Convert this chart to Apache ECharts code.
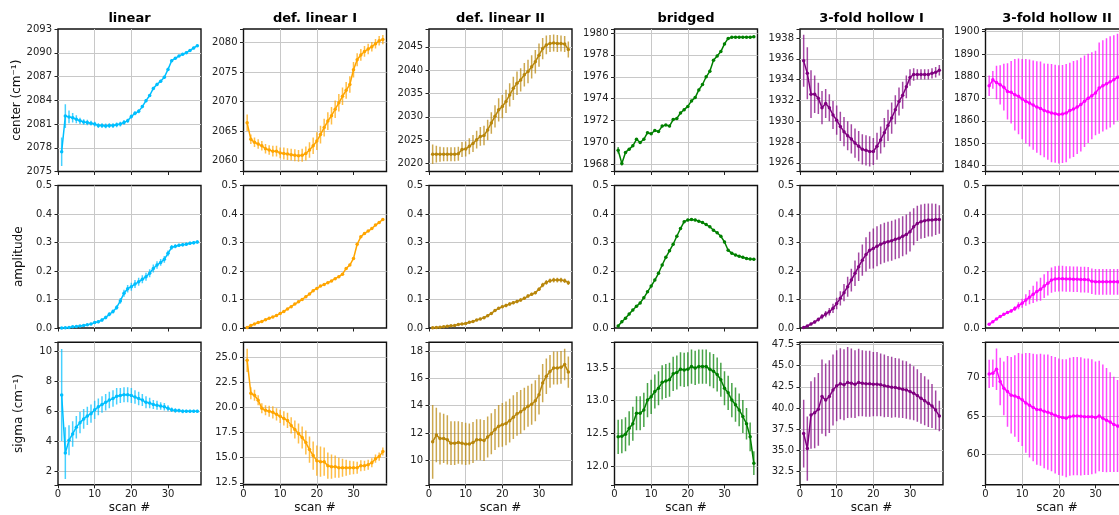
<!DOCTYPE html>
<html><head><meta charset="utf-8">
<script src="https://cdn.jsdelivr.net/npm/echarts@6/dist/echarts.min.js"></script>
<style>html,body{margin:0;padding:0;background:#fff}#c{width:1119px;height:515px}</style>
</head><body><div id="c"></div>
<script>
const scans = [1,2,3,4,5,6,7,8,9,10,11,12,13,14,15,16,17,18,19,20,21,22,23,24,25,26,27,28,29,30,31,32,33,34,35,36,37,38];
const panelTitles = ['linear','def. linear I','def. linear II','bridged','3-fold hollow I','3-fold hollow II'];
const rowNames = ['center (cm\u207B\u00B9)','amplitude','sigma (cm\u207B\u00B9)'];
const colors = ['#00bfff','#ffa500','#b8860b','#008000','#800080','#ff00ff'];
const xTicks = [0,10,20,30];
const xTickStep = 10;

// ---- center ----
const linearCenter = [2077.5,2082.0,2081.9,2081.8,2081.6,2081.4,2081.25,2081.2,2081.1,2081.0,2080.8,2080.8,2080.75,2080.8,2080.8,2080.9,2081.0,2081.2,2081.4,2081.95,2082.35,2082.6,2083.2,2083.95,2084.6,2085.5,2086.0,2086.4,2086.9,2087.9,2089.0,2089.3,2089.6,2089.8,2090.0,2090.3,2090.6,2090.9];
const linearCenterErr = [1.8,1.5,0.8,0.6,0.5,0.4,0.35,0.35,0.3,0.3,0.3,0.3,0.3,0.3,0.3,0.3,0.3,0.3,0.25,0.25,0.25,0.25,0.2,0.2,0.2,0.2,0.2,0.2,0.2,0.2,0.15,0.15,0.15,0.15,0.15,0.15,0.15,0.15];
const defLinICenter = [2066.4,2063.6,2063.1,2062.8,2062.5,2062.0,2061.8,2061.6,2061.6,2061.3,2061.2,2061.1,2061.0,2060.9,2060.8,2060.9,2061.2,2061.8,2062.5,2063.3,2064.4,2065.6,2066.7,2067.6,2068.7,2069.8,2070.9,2071.9,2072.9,2075.4,2077.1,2077.9,2078.5,2078.9,2079.3,2079.8,2080.3,2080.5];
const defLinICenterErr = [1.4,0.8,0.8,0.8,0.8,0.8,0.8,0.9,0.9,0.9,1.0,1.0,1.0,1.0,1.0,1.1,1.2,1.3,1.4,1.5,1.5,1.5,1.5,1.5,1.5,1.5,1.5,1.4,1.4,1.3,1.1,1.0,0.9,0.9,0.8,0.8,0.8,0.8];
const defLinIICenter = [2022.0,2022.0,2022.0,2022.0,2022.0,2022.0,2022.0,2022.1,2023.0,2023.1,2023.7,2024.3,2025.1,2025.8,2026.0,2027.2,2028.7,2030.1,2031.5,2032.2,2033.3,2034.7,2036.1,2037.2,2037.9,2039.0,2039.7,2040.7,2041.8,2043.2,2044.6,2045.4,2045.7,2045.8,2045.7,2045.7,2045.6,2044.4];
const defLinIICenterErr = [2.1,1.8,1.6,1.5,1.5,1.5,1.5,1.5,1.6,1.6,1.7,1.8,1.9,2.0,2.1,2.2,2.3,2.4,2.5,2.5,2.5,2.5,2.5,2.5,2.5,2.5,2.5,2.5,2.5,2.5,2.3,2.0,1.8,1.8,1.8,1.7,1.7,1.7];
const bridgedCenter = [1969.3,1968.1,1969.1,1969.4,1969.7,1970.3,1970.0,1970.3,1970.9,1970.8,1971.1,1971.0,1971.5,1971.6,1971.5,1972.1,1972.2,1972.7,1973.0,1973.3,1973.8,1974.1,1974.8,1975.3,1976.0,1976.5,1977.5,1977.9,1978.3,1979.0,1979.5,1979.6,1979.6,1979.6,1979.6,1979.6,1979.6,1979.65];
const bridgedCenterErr = [0.3,0.2,0.1,0.1,0.1,0.1,0.1,0.1,0.1,0.1,0.1,0.1,0.1,0.1,0.1,0.1,0.1,0.1,0.1,0.1,0.1,0.1,0.1,0.1,0.1,0.1,0.1,0.1,0.1,0.1,0.08,0.08,0.08,0.08,0.08,0.08,0.08,0.08];
const hollowICenter = [1935.8,1934.6,1932.6,1932.6,1932.2,1931.3,1931.7,1931.3,1930.6,1930.1,1929.5,1929.0,1928.6,1928.3,1927.9,1927.6,1927.3,1927.2,1927.1,1927.1,1927.6,1928.2,1928.9,1929.6,1930.3,1931.1,1931.9,1932.5,1933.3,1934.2,1934.5,1934.5,1934.5,1934.5,1934.5,1934.6,1934.7,1934.9];
const hollowICenterErr = [2.5,2.5,2.3,1.8,1.5,1.6,1.4,1.3,1.35,1.4,1.4,1.4,1.4,1.4,1.4,1.45,1.45,1.45,1.45,1.3,1.3,1.3,1.4,1.5,1.5,1.4,1.35,1.3,1.1,0.8,0.6,0.5,0.5,0.5,0.5,0.5,0.5,0.5];
const hollowIICenter = [1875.7,1878.4,1877.2,1876.2,1875.1,1873.2,1872.8,1871.7,1871.0,1869.8,1868.8,1868.0,1867.1,1866.2,1865.6,1864.7,1864.1,1863.5,1863.2,1862.9,1863.1,1863.5,1864.6,1865.3,1866.2,1867.3,1868.8,1870.1,1871.3,1872.5,1874.7,1875.7,1876.6,1877.5,1878.4,1879.6,1880.4,1881.1];
const hollowIICenterErr = [4.6,4.0,7.5,8.8,10.5,12.6,14.0,16.0,17.0,18.0,19.0,19.5,20.0,20.5,21.0,21.0,21.5,22.0,22.0,22.0,22.0,22.0,21.5,21.5,21.0,21.0,20.5,20.0,19.5,19.0,20.5,20.5,20.5,20.5,20.0,19.5,19.0,19.0];

// ---- amplitude ----
const linearAmp = [0.000,0.001,0.002,0.004,0.005,0.007,0.009,0.011,0.014,0.019,0.022,0.028,0.037,0.048,0.058,0.072,0.095,0.122,0.138,0.145,0.154,0.162,0.171,0.180,0.192,0.209,0.221,0.230,0.241,0.262,0.283,0.287,0.290,0.292,0.294,0.297,0.299,0.302];
const linearAmpErr = [0.001,0.001,0.001,0.002,0.002,0.003,0.003,0.004,0.004,0.005,0.005,0.006,0.006,0.007,0.007,0.008,0.010,0.012,0.013,0.014,0.014,0.014,0.014,0.014,0.014,0.014,0.013,0.012,0.012,0.010,0.008,0.007,0.006,0.006,0.006,0.006,0.006,0.006];
const defLinIAmp = [0.002,0.009,0.014,0.019,0.023,0.029,0.034,0.039,0.044,0.051,0.058,0.067,0.075,0.084,0.092,0.100,0.110,0.119,0.131,0.139,0.147,0.153,0.159,0.165,0.173,0.180,0.189,0.209,0.221,0.244,0.294,0.320,0.332,0.340,0.349,0.361,0.370,0.381];
const defLinIAmpErr = [0.003,0.003,0.003,0.003,0.003,0.003,0.003,0.003,0.003,0.003,0.003,0.003,0.003,0.003,0.003,0.003,0.003,0.003,0.003,0.003,0.003,0.003,0.003,0.003,0.003,0.003,0.003,0.003,0.003,0.003,0.003,0.003,0.003,0.003,0.003,0.003,0.003,0.003];
const defLinIIAmp = [0.001,0.002,0.003,0.004,0.006,0.008,0.009,0.012,0.014,0.016,0.020,0.023,0.028,0.032,0.036,0.043,0.051,0.061,0.069,0.075,0.079,0.084,0.089,0.093,0.098,0.104,0.112,0.118,0.124,0.136,0.151,0.160,0.166,0.168,0.168,0.168,0.166,0.159];
const defLinIIAmpErr = [0.002,0.002,0.002,0.002,0.002,0.002,0.002,0.002,0.002,0.002,0.004,0.004,0.004,0.004,0.004,0.004,0.004,0.004,0.004,0.004,0.006,0.006,0.006,0.006,0.006,0.006,0.006,0.006,0.006,0.006,0.008,0.008,0.008,0.008,0.008,0.008,0.008,0.008];
const bridgedAmp = [0.007,0.022,0.034,0.049,0.063,0.076,0.088,0.106,0.127,0.147,0.168,0.192,0.221,0.248,0.271,0.294,0.322,0.349,0.373,0.379,0.381,0.379,0.375,0.370,0.363,0.355,0.343,0.334,0.322,0.302,0.273,0.262,0.256,0.252,0.248,0.244,0.242,0.241];
const bridgedAmpErr = [0.004,0.004,0.004,0.004,0.004,0.004,0.004,0.004,0.004,0.004,0.004,0.004,0.004,0.004,0.004,0.004,0.004,0.004,0.004,0.004,0.004,0.004,0.004,0.004,0.004,0.004,0.004,0.004,0.004,0.004,0.004,0.004,0.004,0.004,0.004,0.004,0.004,0.004];
const hollowIAmp = [0.002,0.007,0.014,0.021,0.030,0.040,0.049,0.057,0.069,0.086,0.104,0.124,0.145,0.168,0.192,0.215,0.238,0.258,0.273,0.279,0.287,0.294,0.299,0.303,0.306,0.311,0.315,0.322,0.328,0.338,0.355,0.367,0.373,0.376,0.379,0.379,0.381,0.381];
const hollowIAmpErr = [0.002,0.003,0.004,0.005,0.007,0.009,0.011,0.013,0.016,0.020,0.025,0.030,0.035,0.040,0.045,0.050,0.055,0.060,0.065,0.070,0.070,0.070,0.070,0.070,0.070,0.070,0.070,0.070,0.070,0.070,0.065,0.062,0.060,0.060,0.058,0.058,0.055,0.050];
const hollowIIAmp = [0.013,0.022,0.032,0.040,0.048,0.054,0.060,0.068,0.078,0.087,0.098,0.108,0.118,0.128,0.136,0.147,0.157,0.168,0.172,0.173,0.173,0.172,0.172,0.171,0.171,0.170,0.170,0.169,0.164,0.162,0.162,0.162,0.162,0.162,0.162,0.162,0.162,0.162];
const hollowIIAmpErr = [0.002,0.002,0.003,0.003,0.004,0.005,0.006,0.008,0.012,0.016,0.020,0.025,0.030,0.035,0.040,0.042,0.043,0.044,0.045,0.045,0.045,0.045,0.045,0.045,0.045,0.045,0.045,0.045,0.045,0.045,0.045,0.045,0.045,0.045,0.045,0.045,0.045,0.045];

// ---- sigma ----
const linearSigma = [7.09,3.22,4.08,4.5,4.95,5.25,5.5,5.7,5.85,6.1,6.3,6.45,6.6,6.75,6.85,7.0,7.05,7.1,7.1,7.05,6.95,6.85,6.75,6.6,6.55,6.45,6.4,6.35,6.3,6.2,6.1,6.05,6.05,6.0,6.0,6.0,6.0,6.0];
const linearSigmaErr = [3.06,1.73,1.0,0.85,0.75,0.7,0.65,0.6,0.6,0.6,0.55,0.55,0.55,0.55,0.55,0.55,0.5,0.5,0.5,0.5,0.45,0.45,0.4,0.4,0.35,0.3,0.3,0.25,0.25,0.2,0.15,0.15,0.12,0.12,0.1,0.1,0.1,0.1];
const defLinISigma = [24.67,21.4,21.2,20.7,19.9,19.7,19.6,19.5,19.3,19.1,18.9,18.7,18.2,17.8,17.4,17.0,16.5,15.8,15.2,14.7,14.6,14.6,14.2,14.1,14.1,14.0,14.0,14.0,14.0,14.0,14.0,14.2,14.2,14.3,14.5,14.9,15.1,15.6];
const defLinISigmaErr = [1.15,0.6,0.55,0.5,0.5,0.5,0.55,0.6,0.6,0.65,0.7,0.75,0.8,0.9,1.0,1.1,1.2,1.3,1.4,1.5,1.5,1.4,1.3,1.2,1.1,1.0,0.9,0.8,0.7,0.65,0.6,0.55,0.5,0.5,0.45,0.4,0.4,0.4];
const defLinIISigma = [11.35,11.85,11.6,11.6,11.5,11.25,11.25,11.3,11.25,11.2,11.2,11.3,11.5,11.5,11.45,11.7,11.95,12.25,12.5,12.6,12.7,12.9,13.15,13.4,13.55,13.75,13.95,14.1,14.35,14.8,15.65,16.15,16.5,16.75,16.75,16.8,17.0,16.45];
const defLinIISigmaErr = [2.7,2.0,1.9,1.8,1.8,1.6,1.6,1.55,1.55,1.55,1.5,1.5,1.5,1.5,1.5,1.5,1.5,1.5,1.55,1.6,1.6,1.6,1.6,1.6,1.6,1.55,1.5,1.5,1.5,1.45,1.4,1.3,1.2,1.2,1.2,1.2,1.15,1.15];
const bridgedSigma = [12.45,12.46,12.49,12.58,12.65,12.81,12.81,12.86,13.01,13.06,13.14,13.19,13.28,13.3,13.32,13.41,13.43,13.48,13.47,13.48,13.52,13.5,13.52,13.52,13.52,13.48,13.45,13.4,13.32,13.19,13.12,13.01,12.94,12.86,12.76,12.65,12.45,12.05];
const bridgedSigmaErr = [0.26,0.26,0.26,0.26,0.26,0.26,0.26,0.26,0.26,0.26,0.26,0.26,0.26,0.26,0.26,0.26,0.26,0.26,0.26,0.26,0.26,0.26,0.26,0.26,0.26,0.26,0.26,0.26,0.26,0.26,0.26,0.26,0.26,0.25,0.25,0.24,0.22,0.18];
const hollowISigma = [36.98,35.2,39.17,39.45,39.84,41.35,40.95,41.35,42.14,42.62,42.86,42.74,43.02,42.94,42.82,43.02,42.94,42.86,42.86,42.82,42.82,42.74,42.62,42.54,42.46,42.42,42.34,42.22,42.14,41.94,41.75,41.47,41.15,40.87,40.56,40.24,39.76,39.05];
const hollowISigmaErr = [4.0,3.8,4.0,4.2,4.3,4.4,4.3,4.3,4.2,4.2,4.2,4.2,4.2,4.1,4.0,4.0,3.9,3.9,3.9,3.8,3.8,3.7,3.7,3.6,3.6,3.5,3.5,3.4,3.4,3.3,3.2,3.1,3.0,2.9,2.8,2.6,2.3,1.8];
const hollowIISigma = [70.48,70.57,71.1,69.5,68.6,68.2,67.7,67.6,67.4,67.1,66.7,66.4,66.1,65.85,65.8,65.6,65.5,65.3,65.1,64.9,64.8,64.7,64.9,64.98,64.98,64.95,64.9,64.9,64.9,64.8,65.0,64.7,64.45,64.2,63.9,63.7,63.4,63.1];
const hollowIISigmaErr = [1.85,1.8,2.7,3.1,3.5,4.6,5.0,5.3,5.8,6.0,6.5,6.8,7.0,7.2,7.3,7.4,7.5,7.5,7.6,7.6,7.6,7.7,7.7,7.7,7.7,7.7,7.6,7.6,7.5,7.3,7.2,7.0,6.8,6.5,6.2,6.0,5.8,5.6];

// ---- axis ranges / tick steps ----
const centerAxes = [
  {min:2075, max:2093, step:3, dec:0, fromMin:true},
  {min:2058.15, max:2082.3, step:5, dec:0},
  {min:2018.3, max:2048.8, step:5, dec:0},
  {min:1967.36, max:1980.36, step:2, dec:0},
  {min:1925.17, max:1938.86, step:2, dec:0},
  {min:1837.3, max:1901.2, step:10, dec:0}
];
const ampAxes = [0,1,2,3,4,5].map(() => ({min:0, max:0.5, step:0.1, dec:1, fromMin:true}));
const sigmaAxes = [
  {min:1.11, max:10.6, step:2, dec:0},
  {min:12.3, max:26.46, step:2.5, dec:1},
  {min:8.21, max:18.63, step:2, dec:0},
  {min:11.72, max:13.89, step:0.5, dec:1},
  {min:30.92, max:47.77, step:2.5, dec:1},
  {min:56.03, max:74.6, step:5, dec:0}
];

const rowsData = [
  {vals:[linearCenter,defLinICenter,defLinIICenter,bridgedCenter,hollowICenter,hollowIICenter],
   errs:[linearCenterErr,defLinICenterErr,defLinIICenterErr,bridgedCenterErr,hollowICenterErr,hollowIICenterErr], axes:centerAxes},
  {vals:[linearAmp,defLinIAmp,defLinIIAmp,bridgedAmp,hollowIAmp,hollowIIAmp],
   errs:[linearAmpErr,defLinIAmpErr,defLinIIAmpErr,bridgedAmpErr,hollowIAmpErr,hollowIIAmpErr], axes:ampAxes},
  {vals:[linearSigma,defLinISigma,defLinIISigma,bridgedSigma,hollowISigma,hollowIISigma],
   errs:[linearSigmaErr,defLinISigmaErr,defLinIISigmaErr,bridgedSigmaErr,hollowISigmaErr,hollowIISigmaErr], axes:sigmaAxes}
];

// ---- layout ----
const colLeft = [58, 243.5, 429, 614.5, 800, 985.5];
const rowTop = [29, 185.5, 342.3];
const W = 143, H = 142.5;
const FONT = 'DejaVu Sans';

function fmt(base, step, dec) {
  return function (v) {
    const k = (v - base) / step;
    if (Math.abs(k - Math.round(k)) > 1e-6) return '';
    return v.toFixed(dec);
  };
}
function errRender(color) {
  return function (params, api) {
    const x = api.value(0);
    const a = api.coord([x, api.value(1)]);
    const b = api.coord([x, api.value(2)]);
    return {type:'line', shape:{x1:a[0], y1:a[1], x2:b[0], y2:b[1]},
            style:{stroke:color, lineWidth:1.5, opacity:0.72}};
  };
}

const grids = [], xAxes = [], yAxes = [], series = [];
for (let r = 0; r < 3; r++) {
  for (let c = 0; c < 6; c++) {
    const idx = r * 6 + c;
    grids.push({left:colLeft[c], top:rowTop[r], width:W, height:H, show:true,
      borderColor:'#111', borderWidth:1.4, backgroundColor:'#fff',
      containLabel:false, outerBoundsMode:'none', z:0});
    xAxes.push({type:'value', gridIndex:idx, min:0, max:39, interval:xTickStep,
      axisLine:{show:false},
      axisTick:{show:true, length:3.5, customValues:xTicks, lineStyle:{color:'#222', width:1}},
      axisLabel:{show:r === 2, margin:5, fontFamily:FONT, fontSize:10, color:'#222', formatter:fmt(0, xTickStep, 0)},
      splitLine:{show:true, showMinLine:false, showMaxLine:false, lineStyle:{color:'#c8c8c8', width:1}},
      name: r === 2 ? 'scan #' : '', nameLocation:'middle', nameGap:17,
      nameTextStyle:{fontFamily:FONT, fontSize:12, color:'#111'}});
    const ax = rowsData[r].axes[c];
    const yA = {type:'value', gridIndex:idx, min:ax.min, max:ax.max,
      axisLine:{show:false},
      axisTick:{show:true, length:3.5, lineStyle:{color:'#222', width:1}},
      axisLabel:{margin:6, fontFamily:FONT, fontSize:10, color:'#222',
        formatter:fmt(ax.fromMin ? ax.min : 0, ax.step, ax.dec)},
      splitLine:{show:true, showMinLine:false, showMaxLine:false, lineStyle:{color:'#c8c8c8', width:1}},
      name: c === 0 ? rowNames[r] : '', nameLocation:'middle', nameGap:33,
      nameTextStyle:{fontFamily:FONT, fontSize:12, color:'#111'}};
    if (ax.fromMin) yA.interval = ax.step; else { yA.minInterval = ax.step; yA.maxInterval = ax.step; }
    yAxes.push(yA);
    const v = rowsData[r].vals[c], e = rowsData[r].errs[c];
    series.push({type:'custom', xAxisIndex:idx, yAxisIndex:idx, clip:true, silent:true,
      renderItem:errRender(colors[c]), encode:{x:0, y:[1,2]}, z:2,
      data:scans.map((s, i) => [s, v[i] - e[i], v[i] + e[i]])});
    series.push({type:'line', xAxisIndex:idx, yAxisIndex:idx, clip:true, silent:true,
      data:scans.map((s, i) => [s, v[i]]), symbol:'circle', symbolSize:3.5, showSymbol:true,
      lineStyle:{color:colors[c], width:1.5}, itemStyle:{color:colors[c]}, z:3});
  }
}

const titles = panelTitles.map((t, c) => ({text:t, left:colLeft[c] + W / 2, top:12, padding:0,
  textAlign:'center', textStyle:{fontFamily:FONT, fontWeight:'bold', fontSize:13, color:'#000'}}));

const chart = echarts.init(document.getElementById('c'), null, {renderer:'canvas'});
chart.setOption({animation:false, backgroundColor:'#fff', title:titles,
  grid:grids, xAxis:xAxes, yAxis:yAxes, series:series});
</script></body></html>
